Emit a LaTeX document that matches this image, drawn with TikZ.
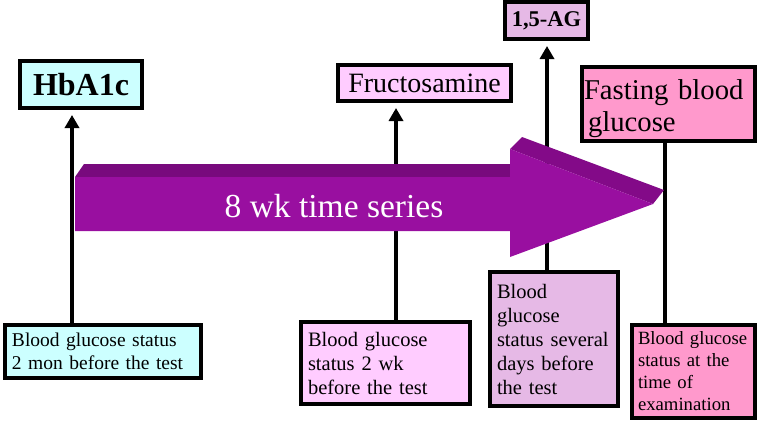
\documentclass[tikz,border=0pt]{standalone}
\usepackage{fontspec}
\setmainfont{Liberation Serif}
\usetikzlibrary{arrows.meta}

\definecolor{cyanbox}{HTML}{CCFFFF}
\definecolor{pinkbox}{HTML}{FFCCFF}
\definecolor{lilacbox}{HTML}{E6B9E6}
\definecolor{rosebox}{HTML}{FF99CC}
\definecolor{arrowfront}{HTML}{990FA0}
\definecolor{arrowtop}{HTML}{780A7D}
\definecolor{headtop}{HTML}{830A88}

\tikzset{
    tagbox/.style={draw, line width=4pt, inner sep=2pt, outer sep=0pt, align=center},
    notebox/.style={draw, line width=4pt, inner xsep=7pt, inner ysep=2pt, outer sep=0pt, align=left},
    pointer/.style={line width=4.5pt, -{Triangle[length=13pt,width=14pt]}, shorten >=7pt},
}

\begin{document}
\begin{tikzpicture}[x=1pt, y=-1pt]
    \useasboundingbox (0,0) rectangle (758,423);

    \node [tagbox, fill=cyanbox, minimum width=122pt, minimum height=47pt, font=\fontsize{32}{36}\selectfont\bfseries] (hba) at (81,84.5) {HbA1c};
    \node [tagbox, fill=pinkbox, minimum width=173pt, minimum height=36pt, font=\fontsize{28}{32}\selectfont] (fru) at (424.5,83) {Fructosamine};
    \node [tagbox, fill=lilacbox, minimum width=83pt, minimum height=37pt, font=\fontsize{22.5}{26}\selectfont\bfseries] (ag) at (546.5,20.5) {1,5-AG};
    \node [tagbox, fill=rosebox, minimum width=173pt, minimum height=74pt, text width=169pt, align=left, font=\fontsize{28.7}{32}\selectfont] (fbg) at (668.5,104) {\rule{0pt}{30pt}Fasting blood\\\hspace*{4pt}glucose};

    \node [notebox, fill=cyanbox, text width=182pt, minimum height=53pt, font=\fontsize{19.5}{23}\selectfont] (b1) at (103,351.5) {Blood glucose status\\2 mon before the test};
    \node [notebox, fill=pinkbox, text width=155pt, minimum height=82pt, font=\fontsize{20.5}{24}\selectfont] (b2) at (385.5,363) {Blood glucose\\status 2 wk\\before the test};
    \node [notebox, fill=lilacbox, text width=114pt, minimum height=134pt, font=\fontsize{20.5}{24}\selectfont] (b3) at (554,339) {Blood\\glucose\\status several\\days before\\the test};
    \node [notebox, fill=rosebox, inner xsep=6pt, text width=111pt, minimum height=93pt, font=\fontsize{18.7}{22}\selectfont] (b4) at (693.5,371.5) {Blood glucose\\status at the\\time of\\examination};

    \coordinate (hbaX) at (72,0);
    \coordinate (fruX) at (396,0);
    \coordinate (agX) at (547,0);
    \coordinate (fbgX) at (665,0);

    \draw [pointer] (b1.north -| hbaX) -- (hba.south -| hbaX);
    \draw [pointer] (b2.north -| fruX) -- (fru.south -| fruX);
    \draw [pointer] (b3.north -| agX) -- (ag.south -| agX);
    \draw [line width=4.5pt] (fbg.south -| fbgX) -- (b4.north -| fbgX);

    \fill [arrowtop] (75,177) -- (84,164) -- (520,164) -- (510,177) -- cycle;
    \fill [headtop] (510,149) -- (522,137) -- (664,190) -- (653,204) -- cycle;
    \fill [arrowfront] (75,177) -- (510,177) -- (510,149) -- (653,204) -- (510,257) -- (510,231) -- (75,231) -- cycle;
    \node [text=white, font=\fontsize{33.5}{38}\selectfont] (span) at (334,206) {8 wk time series};
\end{tikzpicture}
\end{document}
